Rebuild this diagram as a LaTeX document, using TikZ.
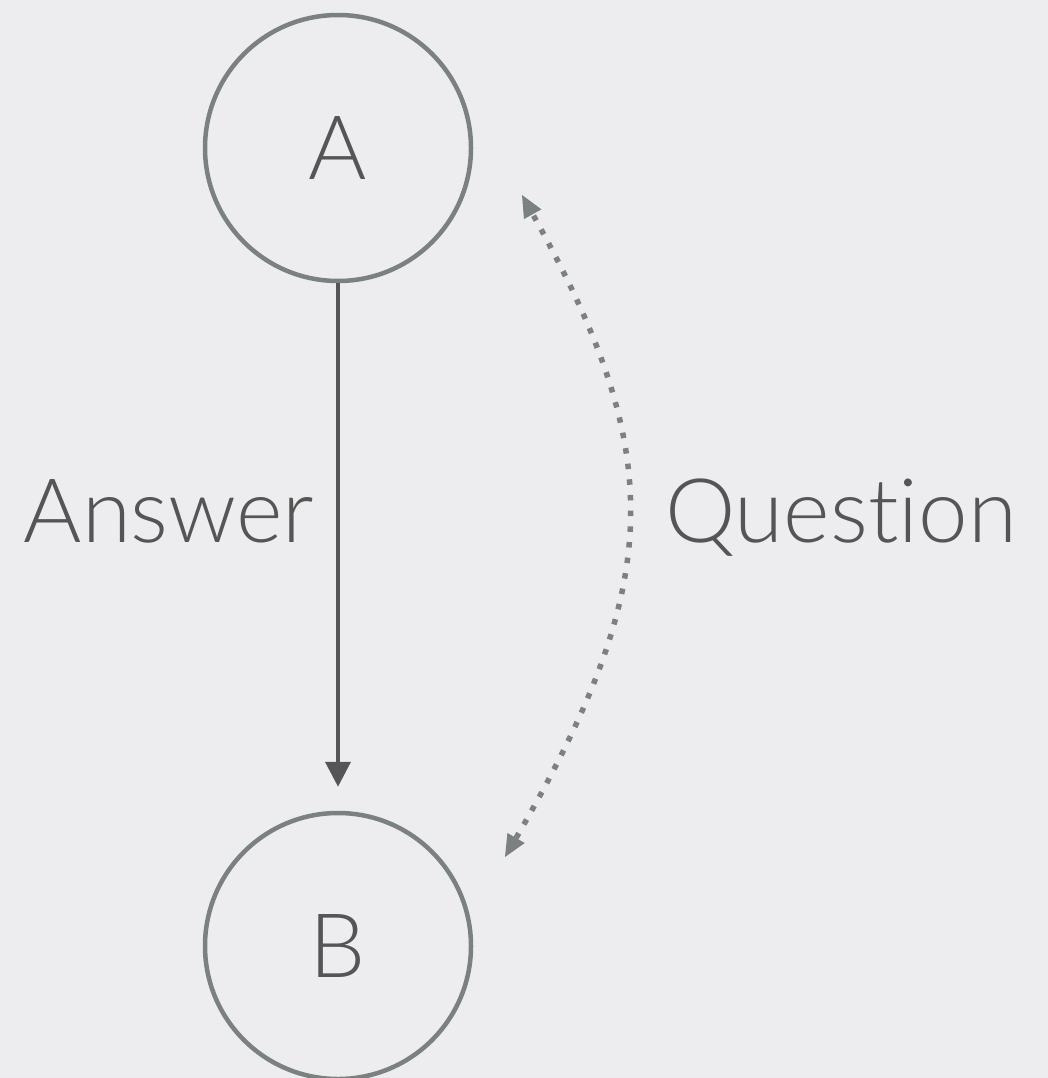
\documentclass[tikz,border=0pt]{standalone}
\usepackage{fontspec}
\setmainfont{Lato}[UprightFont=* Light, Ligatures=NoCommon]
\usetikzlibrary{arrows.meta}
\definecolor{bgcol}{HTML}{EDEDEF}
\definecolor{ringcol}{HTML}{7B817E}
\definecolor{inkcol}{HTML}{555555}
\tikzset{
  statenode/.style={circle, draw=ringcol, line width=4.5pt, minimum size=266pt,
    inner sep=0pt, text=inkcol, font=\fontsize{89}{89}\selectfont},
  labeltext/.style={text=inkcol, font=\fontsize{89}{89}\selectfont, anchor=base, inner sep=0pt},
  answerarrow/.style={draw=inkcol, line width=4pt,
    -{Triangle[length=25pt,width=25pt]}},
  questionarrow/.style={draw=ringcol, line width=5.5pt, dash pattern=on 5.5pt off 10.2pt,
    {Triangle[length=22pt,width=20pt,line width=0pt]}-{Triangle[length=22pt,width=20pt,line width=0pt]}}
}
\begin{document}
\begin{tikzpicture}[x=1pt,y=-1pt]
  \fill[bgcol] (0,0) rectangle (1048,1078);
  \useasboundingbox (0,0) rectangle (1048,1078);

  \node[statenode] (A) at (338,148) {A};
  \node[statenode] (B) at (338,946) {B};

  \node[labeltext] (answer) at (169,542) {Answer};
  \node[labeltext] (question) at (841,542) {Question};

  % answer: solid arrow from A down towards B
  \draw[answerarrow, shorten >=24pt] (A.south) -- (B.north);

  % question: dotted two-way arc on the right
  \coordinate (qtop) at (522,195);
  \coordinate (qbot) at (505,857);
  \draw[questionarrow] (qbot) .. controls (666,580) and (666,453) .. (qtop);
\end{tikzpicture}
\end{document}
